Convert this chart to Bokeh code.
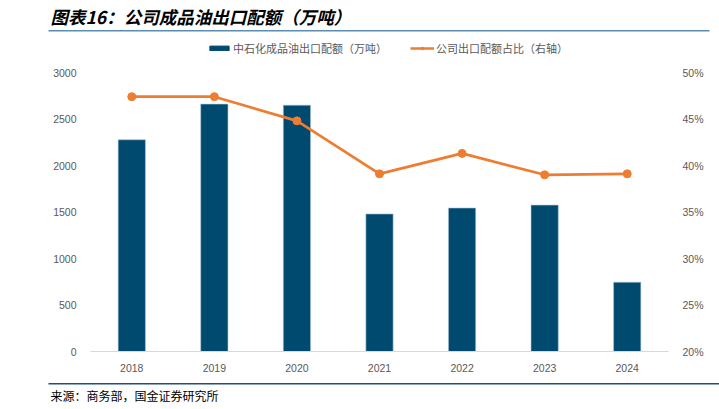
from bokeh.plotting import figure
from bokeh.layouts import column
from bokeh.models import (Range1d, LinearAxis, Legend, LegendItem, Label, BoxAnnotation,
                          FactorRange, NumeralTickFormatter, FixedTicker)
from bokeh.embed import file_html
from bokeh.resources import INLINE

years = ["2018", "2019", "2020", "2021", "2022", "2023", "2024"]
quota = [2277, 2660, 2649, 1479, 1543, 1574, 745]
share = [0.474, 0.474, 0.448, 0.391, 0.413, 0.390, 0.391]
left_ticks = [0, 500, 1000, 1500, 2000, 2500, 3000]
right_ticks = [0.20, 0.25, 0.30, 0.35, 0.40, 0.45, 0.50]

title_text = "图表16：公司成品油出口配额（万吨）"
source_text = "来源：商务部，国金证券研究所"
bar_label = "中石化成品油出口配额（万吨）"
line_label = "公司出口配额占比（右轴）"

CJK = "Noto Sans CJK SC"
GREY = "#595959"
BAR = "#00496f"
ORANGE = "#ed7d31"

W = 719
TOP_H, MAIN_H, BOT_H = 62, 312, 35


def bare(fig):
    fig.axis.visible = False
    fig.grid.grid_line_color = None
    fig.outline_line_color = None
    fig.min_border = 0
    fig.min_border_left = 0
    fig.min_border_right = 0
    fig.min_border_top = 0
    fig.min_border_bottom = 0
    fig.frame_align = False
    fig.background_fill_color = "white"
    fig.border_fill_color = "white"
    return fig


# ---------- header: title, rule, legend ----------
top = bare(figure(width=W, height=TOP_H, x_range=Range1d(0, W), y_range=Range1d(0, TOP_H),
                  output_backend="svg", toolbar_location=None))
top.add_layout(Label(x=50, y=TOP_H - 16, text=title_text, text_font=CJK, text_font_size="17.5px",
                     text_font_style="bold italic", text_color="#000000", text_baseline="middle"))
top.add_layout(BoxAnnotation(left=48, right=709, bottom=TOP_H - 31, top=TOP_H - 29.5,
                             fill_color="#5b8db2", fill_alpha=1, line_color=None))
# legend-only renderers (their data lies outside the visible range)
lb = top.vbar(x=[-500], top=[-500], bottom=[-510], width=1, fill_color=BAR, line_color=BAR)
ll = top.line(x=[-500, -490], y=[-500, -500], line_color=ORANGE, line_width=2.5)
lp = top.scatter(x=[-500], y=[-500], size=7, fill_color=ORANGE, line_color=ORANGE)
legend = Legend(items=[LegendItem(label=bar_label, renderers=[lb]),
                       LegendItem(label=line_label, renderers=[ll, lp])],
                orientation="horizontal", location=(207, 6),
                glyph_width=24, glyph_height=6, label_standoff=2, spacing=23,
                padding=0, margin=0, border_line_color=None, background_fill_alpha=0,
                label_text_font=CJK, label_text_font_size="11px", label_text_color=GREY,
                label_height=14)
top.add_layout(legend, "center")

# ---------- main chart ----------
p = figure(width=W, height=MAIN_H, x_range=FactorRange(*years, range_padding=0),
           y_range=Range1d(0, 3000), output_backend="svg", toolbar_location=None,
           min_border_left=90, min_border_right=51, min_border_top=10, min_border_bottom=20)
p.outline_line_color = None
p.grid.grid_line_color = None
p.background_fill_color = "white"
p.border_fill_color = "white"
p.extra_y_ranges = {"pct": Range1d(0.20, 0.50)}

p.vbar(x=years, top=quota, width=0.33, fill_color=BAR, line_color="#a9c4d8", line_width=0.6)
p.line(x=years, y=share, y_range_name="pct", line_color=ORANGE, line_width=2.7)
p.scatter(x=years, y=share, y_range_name="pct", size=8, fill_color=ORANGE, line_color=ORANGE)

ya = p.yaxis[0]
ya.ticker = FixedTicker(ticks=left_ticks)
ra = LinearAxis(y_range_name="pct", ticker=FixedTicker(ticks=right_ticks),
                formatter=NumeralTickFormatter(format="0%"))
p.add_layout(ra, "right")
for ax in (ya, ra):
    ax.axis_line_color = None
    ax.major_tick_line_color = None
    ax.minor_tick_line_color = None
    ax.major_label_standoff = 8

xa = p.xaxis[0]
xa.axis_line_color = "#d9d9d9"
xa.major_tick_line_color = None
xa.minor_tick_line_color = None
xa.major_label_standoff = 6

for ax in (ya, ra, xa):
    ax.major_label_text_color = GREY
    ax.major_label_text_font = "Liberation Sans"
    ax.major_label_text_font_size = "10.5px"

# ---------- footer: rule, source ----------
bot = bare(figure(width=W, height=BOT_H, x_range=Range1d(0, W), y_range=Range1d(0, BOT_H),
                  output_backend="svg", toolbar_location=None))
bot.add_layout(BoxAnnotation(left=48, right=W, bottom=BOT_H - 10, top=BOT_H - 8.5,
                             fill_color="#1f4e79", fill_alpha=1, line_color=None))
bot.add_layout(Label(x=50, y=BOT_H - 21, text=source_text, text_font=CJK, text_font_size="12px",
                     text_color="#000000", text_baseline="middle"))

layout = column(top, p, bot, spacing=0)
open("out.html", "w").write(file_html(layout, INLINE))
